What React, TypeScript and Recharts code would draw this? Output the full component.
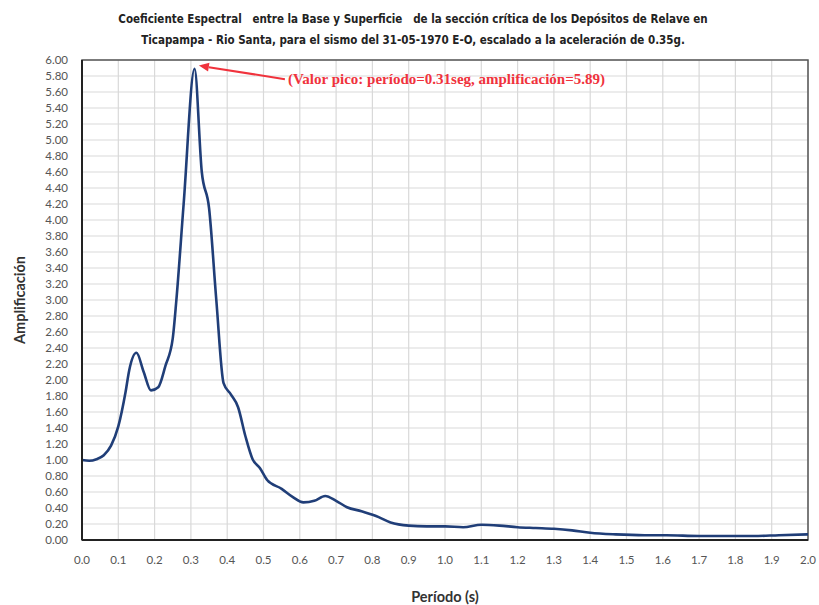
import React from 'react';
import {
  LineChart,
  Line,
  XAxis,
  YAxis,
  CartesianGrid,
  ReferenceArea,
  ReferenceLine,
  Label
} from 'recharts';

// Period (s) and spectral amplification
const periods = [
  0.0, 0.02, 0.04, 0.06, 0.08, 0.10, 0.12, 0.13, 0.15, 0.17, 0.19, 0.21, 0.23, 0.25, 0.26,
  0.28, 0.31, 0.33, 0.35, 0.37, 0.39, 0.41, 0.43, 0.45, 0.47, 0.49, 0.51, 0.55, 0.58, 0.61,
  0.64, 0.67, 0.70, 0.73, 0.77, 0.81, 0.85, 0.90, 0.95, 1.00, 1.05, 1.10, 1.15, 1.20, 1.25,
  1.30, 1.35, 1.40, 1.47, 1.55, 1.61, 1.70, 1.78, 1.85, 1.92, 2.00
];
const amplification = [
  1.00, 0.99, 1.01, 1.06, 1.18, 1.42, 1.85, 2.12, 2.34, 2.10, 1.87, 1.91, 2.18, 2.52, 3.00,
  4.20, 5.89, 4.60, 4.15, 3.00, 1.96, 1.82, 1.66, 1.30, 1.01, 0.90, 0.75, 0.64, 0.54, 0.47,
  0.49, 0.55, 0.49, 0.41, 0.36, 0.30, 0.22, 0.18, 0.17, 0.17, 0.16, 0.19, 0.18, 0.16, 0.15,
  0.14, 0.12, 0.09, 0.07, 0.06, 0.06, 0.05, 0.05, 0.05, 0.06, 0.07
];

const xTicks = Array.from({ length: 21 }, (_, i) => +(i * 0.1).toFixed(1));
const yTicks = Array.from({ length: 31 }, (_, i) => +(i * 0.2).toFixed(1));

const titleLine1 = 'Coeficiente Espectral   entre la Base y Superficie   de la sección crítica de los Depósitos de Relave en';
const titleLine2 = 'Ticapampa - Rio Santa, para el sismo del 31-05-1970 E-O, escalado a la aceleración de 0.35g.';
const peakNote = '(Valor pico: período=0.31seg, amplificación=5.89)';

const data = periods.map((p, i) => ({ period: p, amp: amplification[i] }));

const tickStyle = { fontFamily: 'Lato, sans-serif', fontSize: 11.5, fill: '#555' };

function PeakArrow(props: any) {
  const { x1, y1, x2, y2 } = props;
  const ang = Math.atan2(y2 - y1, x2 - x1);
  const len = 10;
  const w = 4.5;
  const bx = x2 - len * Math.cos(ang);
  const by = y2 - len * Math.sin(ang);
  const px = -Math.sin(ang) * w;
  const py = Math.cos(ang) * w;
  return (
    <g>
      <line x1={x1} y1={y1} x2={bx} y2={by} stroke="#f0323c" strokeWidth={2} />
      <polygon points={`${x2},${y2} ${bx + px},${by + py} ${bx - px},${by - py}`} fill="#f0323c" />
      <text
        x={x1 + 3}
        y={y1 + 5}
        fontFamily="'Liberation Serif', serif"
        fontWeight="bold"
        fontSize={15}
        fill="#f0323c"
      >
        {peakNote}
      </text>
    </g>
  );
}

export default function App() {
  return (
    <div style={{ position: 'absolute', left: 0, top: 0, width: 819, height: 605, background: '#fff' }}>
      <div
        style={{
          position: 'absolute',
          left: 0,
          top: 9,
          width: 826,
          textAlign: 'center',
          fontFamily: "'DejaVu Sans Condensed', 'DejaVu Sans', sans-serif",
          fontStretch: 'condensed',
          fontWeight: 'bold',
          fontSize: 11.5,
          lineHeight: '21px',
          color: '#222',
          whiteSpace: 'pre'
        }}
      >
        <div>{titleLine1}</div>
        <div>{titleLine2}</div>
      </div>
      <LineChart
        width={819}
        height={605}
        data={data}
        margin={{ top: 60, right: 11, bottom: 0, left: 0 }}
      >
        <CartesianGrid stroke="#d9d9d9" strokeWidth={1.2} />
        <XAxis
          dataKey="period"
          type="number"
          domain={[0, 2]}
          ticks={xTicks}
          tickFormatter={(v: number) => v.toFixed(1)}
          tick={tickStyle}
          tickLine={false}
          tickSize={0}
          tickMargin={16}
          height={65}
          axisLine={{ stroke: '#222', strokeWidth: 2 }}
          interval={0}
        >
          <Label
            value="Período (s)"
            position="insideBottom"
            offset={3}
            style={{ fontFamily: 'Lato, sans-serif', fontWeight: 'bold', fontSize: 14.5, fill: '#333' }}
          />
        </XAxis>
        <YAxis
          type="number"
          domain={[0, 6]}
          ticks={yTicks}
          tickFormatter={(v: number) => v.toFixed(2)}
          tick={tickStyle}
          tickLine={false}
          tickSize={0}
          tickMargin={14}
          width={82}
          axisLine={{ stroke: '#222', strokeWidth: 2 }}
          interval={0}
        >
          <Label
            value="Amplificación"
            angle={-90}
            position="insideLeft"
            offset={20}
            style={{ fontFamily: 'Lato, sans-serif', fontWeight: 'bold', fontSize: 14.5, fill: '#333', textAnchor: 'middle' }}
          />
        </YAxis>
        <ReferenceArea x1={0} x2={2} y1={0} y2={6} fill="none" stroke="#555" strokeWidth={1.5} />
        <Line
          type="monotone"
          dataKey="amp"
          stroke="#203e78"
          strokeWidth={2.6}
          dot={false}
          isAnimationActive={false}
        />
        <ReferenceLine
          segment={[{ x: 0.559, y: 5.76 }, { x: 0.322, y: 5.93 }]}
          shape={PeakArrow}
        />
      </LineChart>
    </div>
  );
}
